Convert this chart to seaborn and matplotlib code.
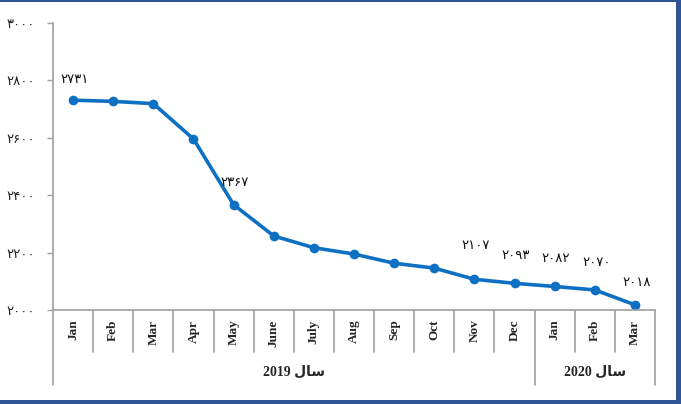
import matplotlib
matplotlib.use("Agg")
import matplotlib.pyplot as plt
from matplotlib.patches import Rectangle
import pandas as pd
import seaborn as sns

# --- data ---
months = ['Jan', 'Feb', 'Mar', 'Apr', 'May', 'June', 'July', 'Aug',
          'Sep', 'Oct', 'Nov', 'Dec', 'Jan', 'Feb', 'Mar']
years = ['2019'] * 12 + ['2020'] * 3
values = [2731, 2727, 2719, 2596, 2367, 2258, 2217, 2195,
          2163, 2146, 2107, 2093, 2082, 2070, 2018]
labelled = [True, False, False, False, True, False, False, False,
            False, False, True, True, True, True, True]
yticks = [2000, 2200, 2400, 2600, 2800, 3000]

# label offsets (points) above each labelled marker
label_dy = [15, 0, 0, 0, 16, 0, 0, 0, 0, 0, 24, 20, 20, 20, 16]

FA_DIGITS = str.maketrans('0123456789', '۰۱۲۳۴۵۶۷۸۹')


def fa(n):
    return str(n).translate(FA_DIGITS)


df = pd.DataFrame({'pos': range(len(months)), 'month': months,
                   'year': years, 'value': values})

sns.set_style('white')
plt.rcParams['font.family'] = ['DejaVu Sans']

W, H = 681, 404
fig = plt.figure(figsize=(W / 100, H / 100), dpi=100)
left, right, top, bottom = 53, 655, 23, 310
ax = fig.add_axes([left / W, 1 - bottom / H, (right - left) / W, (bottom - top) / H])

line_blue = '#0E70C2'
sns.lineplot(data=df, x='pos', y='value', color=line_blue, linewidth=2.6,
             marker='o', markersize=7, markeredgewidth=0, ax=ax)

ax.set_xlim(-0.5, len(months) - 0.5)
ax.set_ylim(yticks[0], yticks[-1])
ax.set_yticks(yticks)
ax.set_yticklabels([fa(t) for t in yticks], fontsize=9.5, color='#222222')
ax.set_xticks(df['pos'])
ax.set_xticklabels(df['month'], rotation=90, fontsize=9.5, fontweight='bold',
                   family=['Liberation Serif', 'DejaVu Serif'], va='top')
ax.tick_params(axis='x', length=0, pad=7)
ax.tick_params(axis='y', left=True, length=4.5, width=1, color='#A0A0A0',
               direction='out', pad=8.5)
ax.set_xlabel('')
ax.set_ylabel('')

grey = '#A0A0A0'
for side in ['top', 'right']:
    ax.spines[side].set_visible(False)
for side in ['left', 'bottom']:
    ax.spines[side].set_color(grey)
    ax.spines[side].set_linewidth(1.2)

# data labels
for i, (v, show) in enumerate(zip(values, labelled)):
    if show:
        ax.annotate(fa(v), (i, v), xytext=(1, label_dy[i]),
                    textcoords='offset points', ha='center', va='center',
                    fontsize=9.5, color='#111111')

# category separators below the axis
ax_h = bottom - top
short = -(352 - bottom) / ax_h
long = -(385 - bottom) / ax_h
xt = ax.get_xaxis_transform()
group_edges = {0}
for k in range(1, len(years)):
    if years[k] != years[k - 1]:
        group_edges.add(k)
group_edges.add(len(years))
for k in range(len(years) + 1):
    depth = long if k in group_edges else short
    ax.plot([k - 0.5, k - 0.5], [0, depth], color=grey, lw=1.2,
            transform=xt, clip_on=False)

# year group labels (visual order for RTL Persian word)
sal = '\uFEDD\uFE8E\uFEB3'
edges = sorted(group_edges)
for a, b in zip(edges[:-1], edges[1:]):
    ax.text((a + b - 1) / 2, -(372 - bottom) / ax_h, f'{years[a]} {sal}',
            transform=xt, ha='center', va='center', fontsize=10,
            fontweight='bold', family=['Liberation Serif', 'DejaVu Sans'])

# blue frame
frame = '#2F5597'
fig.add_artist(Rectangle((0, 1 - 2 / H), 1, 2 / H, transform=fig.transFigure,
                         color=frame, lw=0))
fig.add_artist(Rectangle((676 / W, 0), 5 / W, 1, transform=fig.transFigure,
                         color=frame, lw=0))
fig.add_artist(Rectangle((0, 0), 1, 4 / H, transform=fig.transFigure,
                         color=frame, lw=0))

fig.savefig('out.png', dpi=100)
